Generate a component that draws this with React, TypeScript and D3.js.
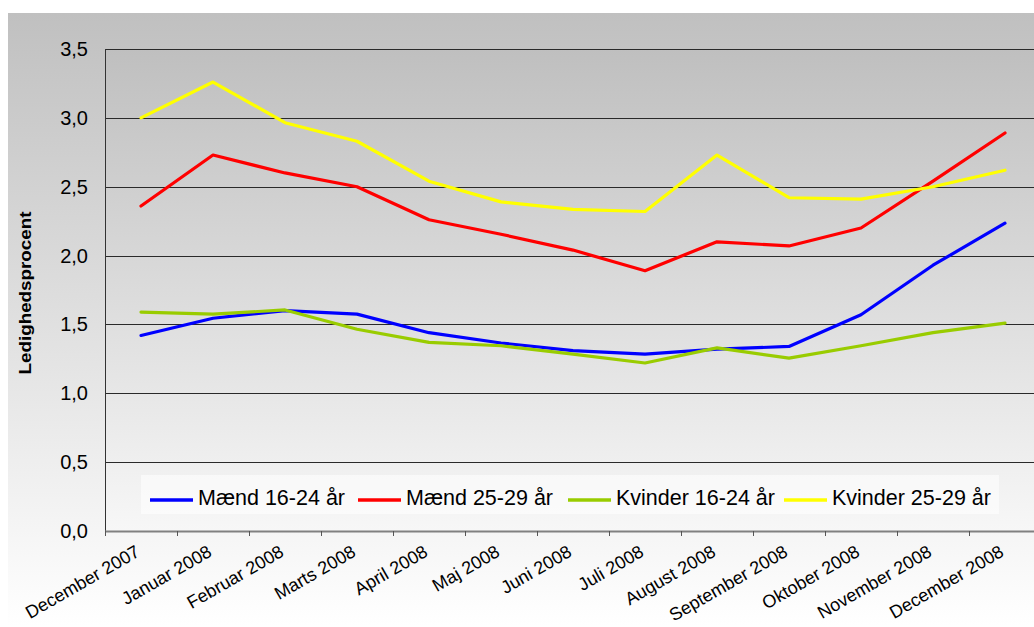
import React from "react";
import * as d3 from "d3";

const months = [
  "December 2007", "Januar 2008", "Februar 2008", "Marts 2008", "April 2008",
  "Maj 2008", "Juni 2008", "Juli 2008", "August 2008", "September 2008",
  "Oktober 2008", "November 2008", "December 2008",
];

const maend1624 = [1.42, 1.545, 1.6, 1.575, 1.44, 1.365, 1.31, 1.285, 1.32, 1.34, 1.57, 1.93, 2.235];
const maend2529 = [2.36, 2.73, 2.6, 2.5, 2.26, 2.155, 2.04, 1.89, 2.1, 2.07, 2.2, 2.54, 2.89];
const kvinder1624 = [1.59, 1.575, 1.605, 1.465, 1.37, 1.345, 1.285, 1.22, 1.33, 1.255, 1.345, 1.44, 1.51];
const kvinder2529 = [3.0, 3.26, 2.965, 2.83, 2.54, 2.39, 2.336, 2.32, 2.73, 2.42, 2.41, 2.5, 2.62];

const seriesNames = ["Mænd 16-24 år", "Mænd 25-29 år", "Kvinder 16-24 år", "Kvinder 25-29 år"];
const seriesColors = ["#0000ff", "#ff0000", "#99cc00", "#ffff00"];
const yTicks = [0, 0.5, 1, 1.5, 2, 2.5, 3, 3.5];
const yTitle = "Ledighedsprocent";

const W = 1034;
const H = 627;
const plotLeft = 105;
const plotTop = 49;
const plotBottom = 531;
const band = 72;

export default function App() {
  const seriesData = [maend1624, maend2529, kvinder1624, kvinder2529];
  const x = d3.scaleBand<string>().domain(months).range([plotLeft, plotLeft + band * months.length]).padding(0);
  const y = d3.scaleLinear().domain([0, 3.5]).range([plotBottom, plotTop]);
  const cx = (m: string) => (x(m) as number) + x.bandwidth() / 2;
  const line = d3.line<number>().x((_, i) => cx(months[i])).y((d) => y(d));
  const plotRight = plotLeft + band * months.length;
  const fmt = (v: number) => d3.format(".1f")(v).replace(".", ",");

  const legendLineX = [150, 358, 568, 784];

  return (
    <svg width={W} height={H} style={{ position: "absolute", left: 0, top: 0, display: "block" }}
      fontFamily="'Liberation Sans', Arial, sans-serif">
      <defs>
        <linearGradient id="outerG" x1="0" y1="0" x2="0" y2="1">
          <stop offset="0" stopColor="#c0c0c0" />
          <stop offset="1" stopColor="#ffffff" />
        </linearGradient>
        <linearGradient id="plotG" x1="0" y1="0" x2="0" y2="1">
          <stop offset="0" stopColor="#bfbfbf" />
          <stop offset="1" stopColor="#f7f7f7" />
        </linearGradient>
        <clipPath id="plotClip">
          <rect x={plotLeft} y={plotTop - 3} width={plotRight - plotLeft} height={plotBottom - plotTop + 6} />
        </clipPath>
      </defs>
      <rect x={0} y={0} width={W} height={H} fill="#ffffff" />
      <rect x={8} y={13} width={W - 8} height={H - 13} fill="url(#outerG)" />
      <rect x={plotLeft} y={plotTop} width={plotRight - plotLeft} height={plotBottom - plotTop} fill="url(#plotG)" />

      {yTicks.filter((t) => t > 0).map((t) => (
        <line key={t} x1={plotLeft} x2={plotRight} y1={Math.round(y(t)) + 0.5} y2={Math.round(y(t)) + 0.5}
          stroke="#2a2a2a" strokeWidth={1} />
      ))}
      <line x1={plotLeft + 0.5} x2={plotLeft + 0.5} y1={plotTop} y2={plotBottom} stroke="#333" strokeWidth={1} />
      <line x1={plotLeft} x2={plotRight} y1={plotBottom + 0.5} y2={plotBottom + 0.5} stroke="#808080" strokeWidth={2} />
      {months.map((m, i) => (
        <line key={"t" + i} x1={(x(m) as number) + 0.5} x2={(x(m) as number) + 0.5} y1={plotBottom} y2={plotBottom + 5}
          stroke="#555" strokeWidth={1} />
      ))}

      {yTicks.map((t) => (
        <text key={"yl" + t} x={88} y={y(t)} textAnchor="end" dominantBaseline="central" fontSize={20} fill="#000">
          {fmt(t)}
        </text>
      ))}

      <text transform={`translate(31,293) rotate(-90)`} textAnchor="middle" fontSize={16} fontWeight="bold"
        textLength={163} lengthAdjust="spacingAndGlyphs" fill="#000">
        {yTitle}
      </text>

      {months.map((m, i) => (
        <text key={"xl" + i} transform={`translate(${cx(m) - 3},${550}) rotate(-30)`} textAnchor="end"
          dominantBaseline="central" fontSize={18} fill="#000">
          {m}
        </text>
      ))}

      <g clipPath="url(#plotClip)">
        {seriesData.map((s, k) => (
          <path key={"s" + k} d={line(s) as string} fill="none" stroke={seriesColors[k]} strokeWidth={3.2}
            strokeLinejoin="round" strokeLinecap="round" />
        ))}
      </g>

      <rect x={141} y={475} width={858} height={39} fill="#ffffff" fillOpacity={0.55} />
      {seriesNames.map((n, k) => (
        <g key={"lg" + k}>
          <line x1={legendLineX[k]} x2={legendLineX[k] + 43} y1={500} y2={500} stroke={seriesColors[k]} strokeWidth={3.5} />
          <text x={legendLineX[k] + 48} y={505} fontSize={21.5} fill="#000">{n}</text>
        </g>
      ))}
    </svg>
  );
}
